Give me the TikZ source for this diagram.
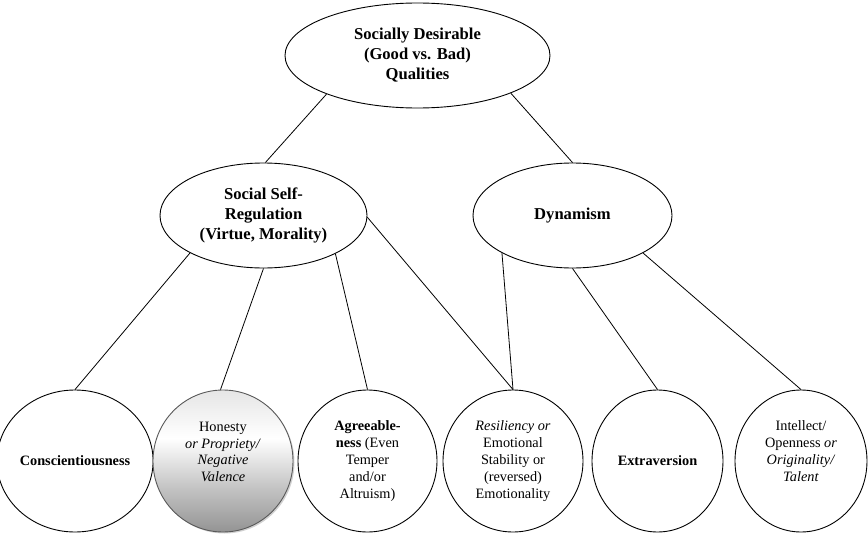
\documentclass[tikz,border=0pt]{standalone}
\usepackage{fontspec}
\setmainfont{Liberation Serif}
\usetikzlibrary{shapes.geometric,shadows}
\pgfdeclareverticalshading{honestshade}{100bp}{color(0bp)=(black!42); color(25bp)=(black!42); color(40bp)=(black!24); color(58bp)=(white); color(75bp)=(black!10); color(100bp)=(black!10)}
\begin{document}
\begin{tikzpicture}[x=1pt,y=-1pt,
  big/.style={ellipse, draw, line width=0.9pt, inner sep=0pt, align=center, minimum height=105pt, font=\fontsize{16.6}{20}\selectfont\bfseries},
  circ/.style={ellipse, draw, line width=0.9pt, inner sep=0pt, minimum height=142pt, align=center, font=\fontsize{14.3}{16.8}\selectfont},
  circtext/.style={align=center, inner sep=0pt, font=\fontsize{14.3}{16.8}\selectfont},
  conn/.style={line width=0.8pt}]
\useasboundingbox (0,0) rectangle (868,535);

\node[big, minimum width=265pt] (top) at (417.5,55.5) {Socially Desirable\\(Good vs. Bad)\\Qualities};
\node[big, minimum width=207pt] (soc) at (263.5,215.5) {Social Self-\\Regulation\\(Virtue, Morality)};
\node[big, minimum width=199pt] (dyn) at (572.5,215.5) {Dynamism};

\node[circ, minimum width=140pt] (c1) at (75,461) {\textbf{Conscientiousness}};
\node[circ, minimum width=140pt, shading=honestshade, draw=black!65,
      drop shadow={shadow xshift=1.5pt, shadow yshift=-1.5pt, fill=black!40, opacity=0.45}] (c2) at (223,461) {};
\node[circtext] (c2t) at ([yshift=9pt]c2.center) {Honesty\\\textit{or Propriety/}\\\textit{Negative}\\\textit{Valence}};
\node[circ, minimum width=139pt] (c3) at (367.5,461) {\textbf{Agreeable-}\\\textbf{ness} (Even\\Temper\\and/or\\Altruism)};
\node[circ, minimum width=140pt] (c4) at (513,461) {\textit{Resiliency or}\\Emotional\\Stability or\\(reversed)\\Emotionality};
\node[circ, minimum width=131pt] (c5) at (657.5,461) {\textbf{Extraversion}};
\node[circ, minimum width=132pt] (c6) at (801,461) {};
\node[circtext] (c6t) at ([yshift=10pt]c6.center) {Intellect/\\Openness \textit{or}\\\textit{Originality/}\\\textit{Talent}};

\draw[conn] (top.-157) -- (soc.88);
\draw[conn] (top.-22) -- (dyn.north);
\draw[conn] (soc.-153) -- (c1.north);
\draw[conn] (soc.south) -- (c2.92);
\draw[conn] (soc.-28) -- (c3.north);
\draw[conn] (soc.-1) -- (c4.north);
\draw[conn] (dyn.-152) -- (c4.north);
\draw[conn] (dyn.south) -- (c5.north);
\draw[conn] (dyn.-28) -- (c6.north);
\end{tikzpicture}
\end{document}
